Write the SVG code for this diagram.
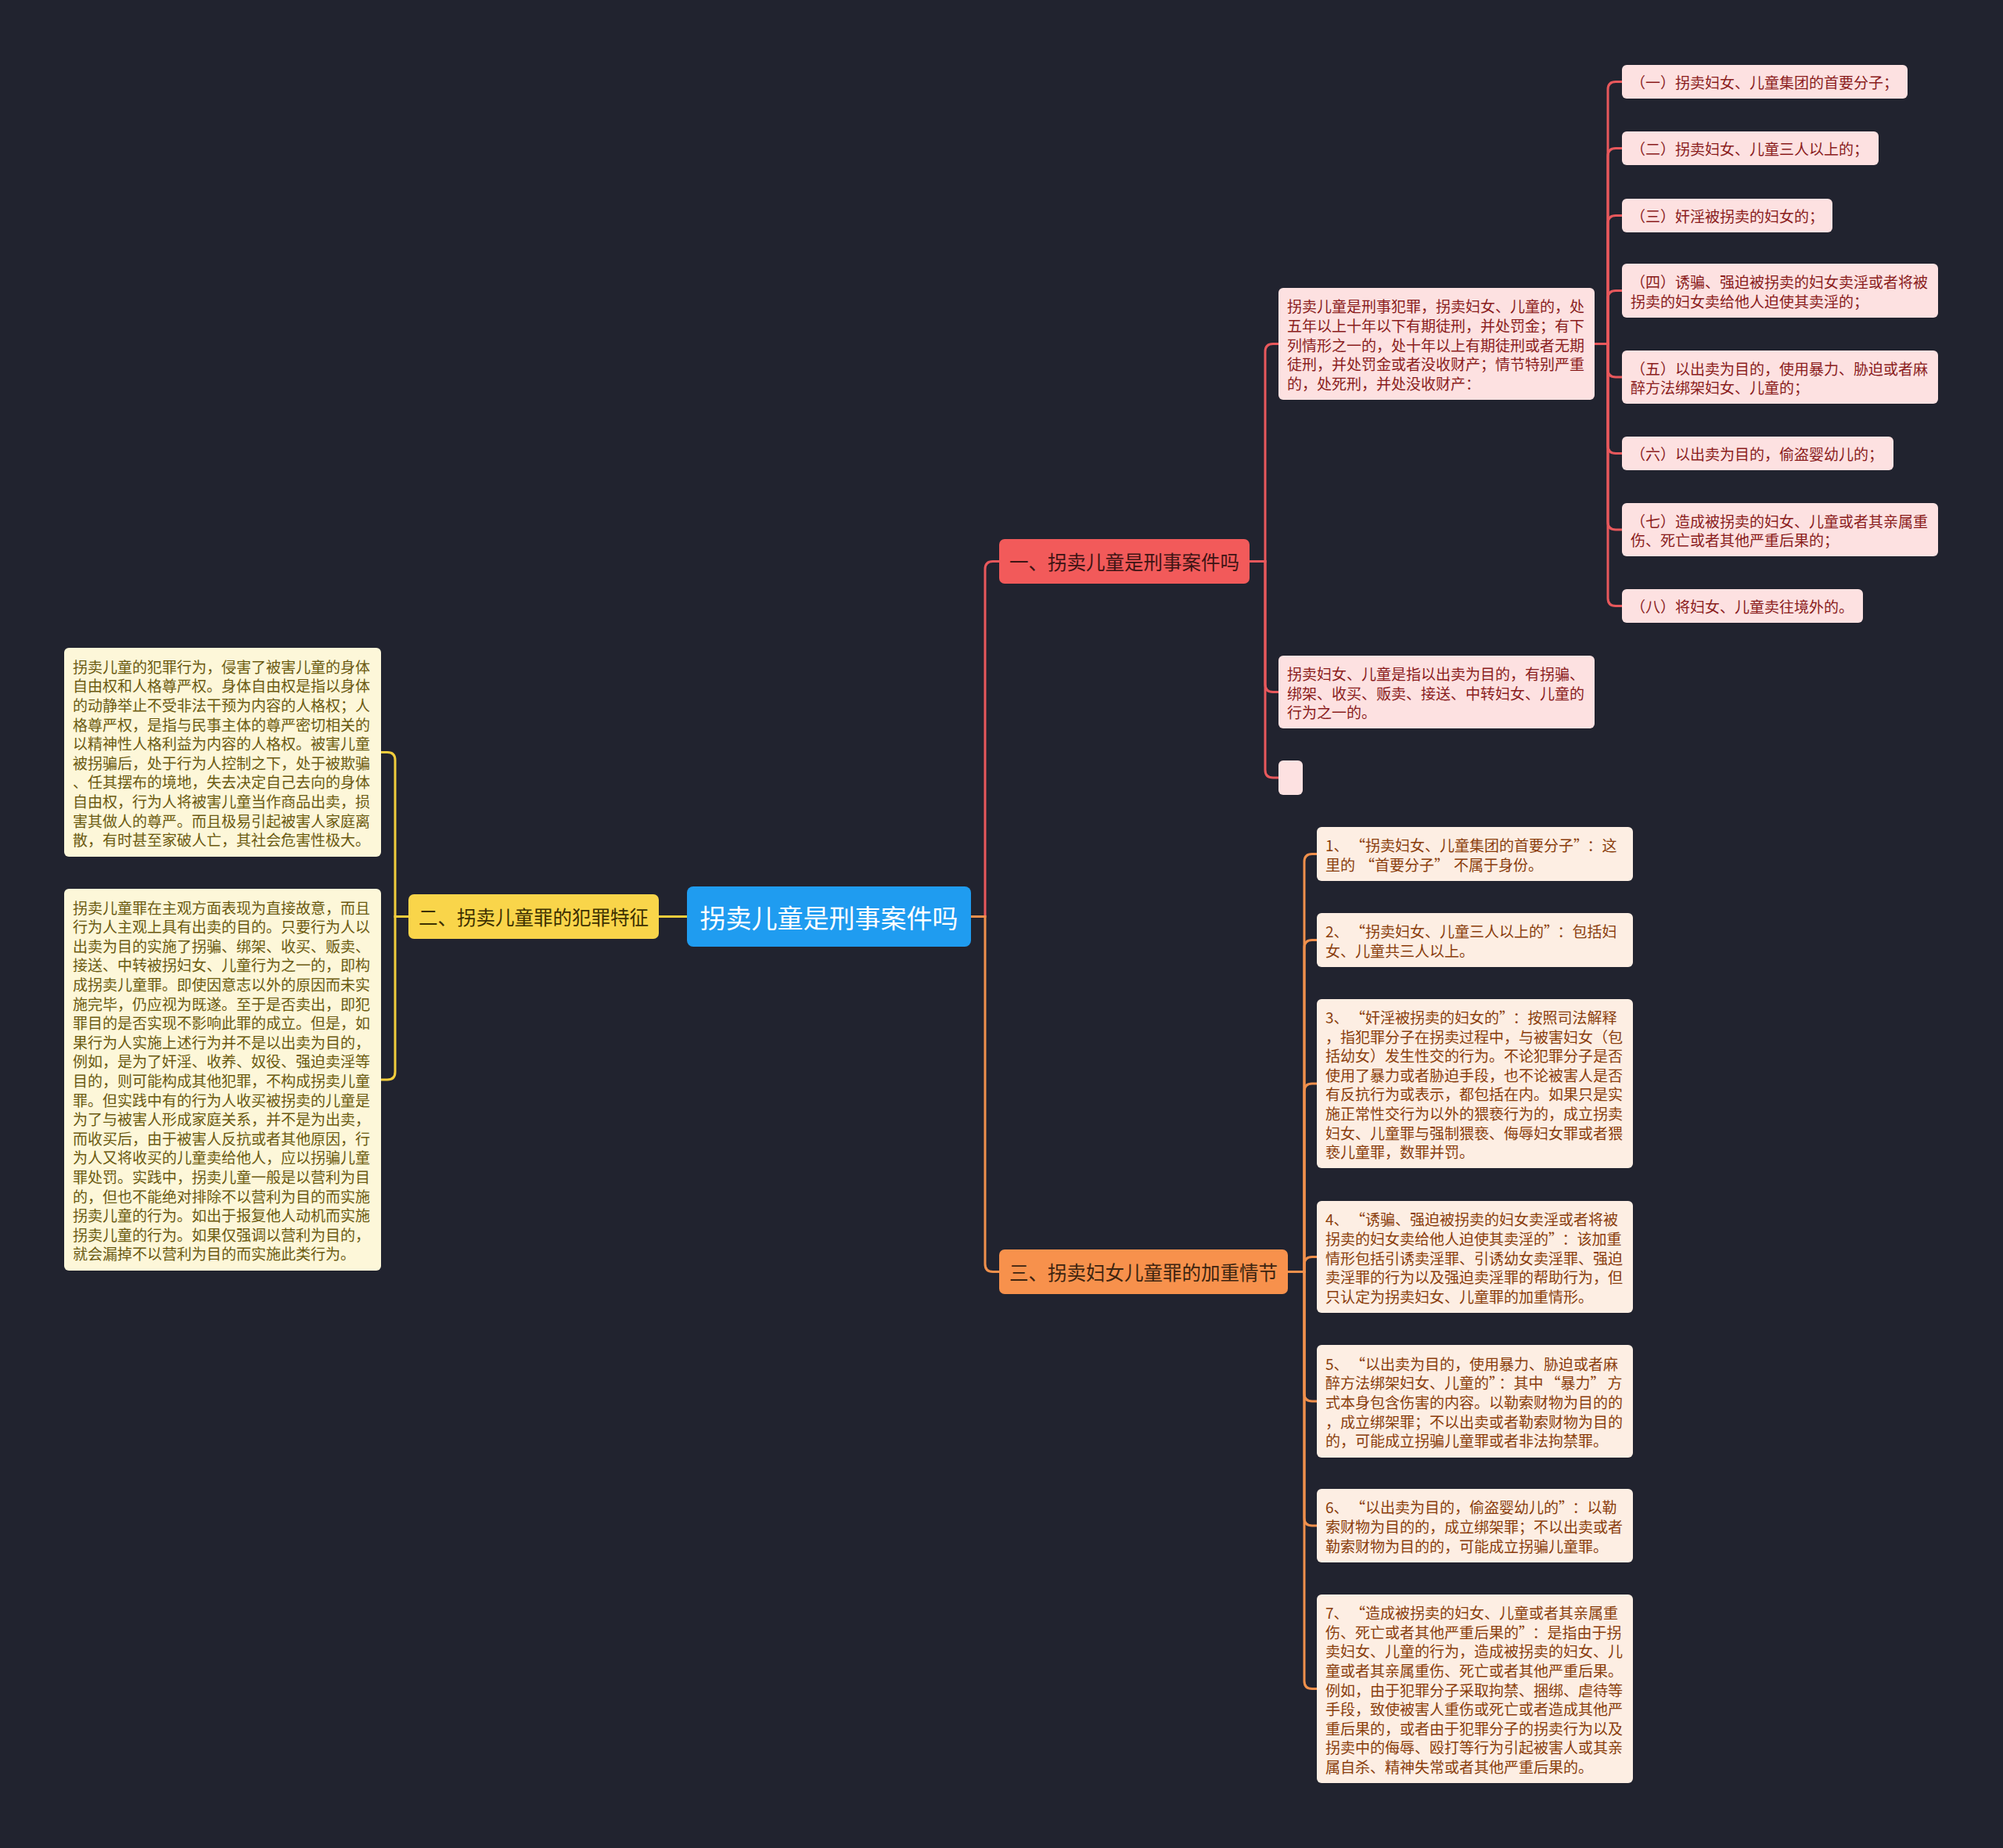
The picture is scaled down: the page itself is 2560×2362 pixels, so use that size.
<svg xmlns="http://www.w3.org/2000/svg" width="2560" height="2362" viewBox="0 0 2560 2362">
<style>
text{font-family:"Noto Sans CJK SC","Noto Sans",sans-serif;dominant-baseline:central}
.c{fill:none;stroke-width:3;stroke-linecap:round}
.cr{stroke:#e8585c}.co{stroke:#f0904c}.cy{stroke:#f2cd3c}
.lr{fill:#fde1e1}.lo{fill:#fdeee3}.ly{fill:#fdf7d9}
.tr{fill:#8a1c1c;font-size:19px}.to{fill:#8a3d0c;font-size:19px}.ty{fill:#6b5a10;font-size:19px}
.mt{font-size:24.5px;text-anchor:middle}
</style>
<rect width="2560" height="2362" fill="#21232f"/>
<g id="connectors">
<path class="c cy" d="M878,1171.5 H842"/>
<path class="c cr" d="M1241,1171.5 H1259 V727.5 Q1259,717.5 1269,717.5 H1277"/>
<path class="c co" d="M1241,1171.5 H1259 V1615.5 Q1259,1625.5 1269,1625.5 H1277"/>
<path class="c cr" d="M1597,717.5 H1617 V449.5 Q1617,439.5 1627,439.5 H1634"/>
<path class="c cr" d="M1597,717.5 H1617 V874.5 Q1617,884.5 1627,884.5 H1634"/>
<path class="c cr" d="M1597,717.5 H1617 V984 Q1617,994 1627,994 H1634"/>
<path class="c cr" d="M2038,439.5 H2055 V114.5 Q2055,104.5 2065,104.5 H2073"/>
<path class="c cr" d="M2038,439.5 H2055 V199.5 Q2055,189.5 2065,189.5 H2073"/>
<path class="c cr" d="M2038,439.5 H2055 V285.5 Q2055,275.5 2065,275.5 H2073"/>
<path class="c cr" d="M2038,439.5 H2055 V381.5 Q2055,371.5 2065,371.5 H2073"/>
<path class="c cr" d="M2038,439.5 H2055 V472 Q2055,482 2065,482 H2073"/>
<path class="c cr" d="M2038,439.5 H2055 V569.5 Q2055,579.5 2065,579.5 H2073"/>
<path class="c cr" d="M2038,439.5 H2055 V667 Q2055,677 2065,677 H2073"/>
<path class="c cr" d="M2038,439.5 H2055 V764.5 Q2055,774.5 2065,774.5 H2073"/>
<path class="c co" d="M1646,1625.5 H1667 V1101.5 Q1667,1091.5 1677,1091.5 H1683"/>
<path class="c co" d="M1646,1625.5 H1667 V1211.5 Q1667,1201.5 1677,1201.5 H1683"/>
<path class="c co" d="M1646,1625.5 H1667 V1395 Q1667,1385 1677,1385 H1683"/>
<path class="c co" d="M1646,1625.5 H1667 V1616.5 Q1667,1606.5 1677,1606.5 H1683"/>
<path class="c co" d="M1646,1625.5 H1667 V1781 Q1667,1791 1677,1791 H1683"/>
<path class="c co" d="M1646,1625.5 H1667 V1940 Q1667,1950 1677,1950 H1683"/>
<path class="c co" d="M1646,1625.5 H1667 V2148.5 Q1667,2158.5 1677,2158.5 H1683"/>
<path class="c cy" d="M522,1171.5 H505 V971.5 Q505,961.5 495,961.5 H487"/>
<path class="c cy" d="M522,1171.5 H505 V1370 Q505,1380 495,1380 H487"/>
</g>
<g id="root">
<rect x="878" y="1133" width="363" height="77" rx="8" fill="#1f9cf0"/>
<text x="1059.5" y="1171.5" font-size="33" fill="#ffffff" text-anchor="middle">拐卖儿童是刑事案件吗</text>
</g>
<g id="b1">
<rect x="1277" y="689" width="320" height="57" rx="7" fill="#f25a5a"/>
<text class="mt" x="1437" y="717.5" fill="#3d1414">一、拐卖儿童是刑事案件吗</text>
</g>
<g id="b2">
<rect x="522" y="1143" width="320" height="57" rx="7" fill="#f9d54a"/>
<text class="mt" x="682" y="1171.5" fill="#3d3000">二、拐卖儿童罪的犯罪特征</text>
</g>
<g id="b3">
<rect x="1277" y="1597" width="369" height="57" rx="7" fill="#f7914c"/>
<text class="mt" x="1461.5" y="1625.5" fill="#3d2410">三、拐卖妇女儿童罪的加重情节</text>
</g>
<g id="a">
<rect class="lr" x="1634" y="368" width="404" height="143" rx="6"/>
<text class="tr"><tspan x="1645" y="390.3">拐卖儿童是刑事犯罪，拐卖妇女、儿童的，处</tspan><tspan x="1645" dy="24.6">五年以上十年以下有期徒刑，并处罚金；有下</tspan><tspan x="1645" dy="24.6">列情形之一的，处十年以上有期徒刑或者无期</tspan><tspan x="1645" dy="24.6">徒刑，并处罚金或者没收财产；情节特别严重</tspan><tspan x="1645" dy="24.6">的，处死刑，并处没收财产：</tspan></text>
</g>
<g id="b">
<rect class="lr" x="1634" y="838" width="404" height="93" rx="6"/>
<text class="tr"><tspan x="1645" y="859.9">拐卖妇女、儿童是指以出卖为目的，有拐骗、</tspan><tspan x="1645" dy="24.6">绑架、收买、贩卖、接送、中转妇女、儿童的</tspan><tspan x="1645" dy="24.6">行为之一的。</tspan></text>
</g>
<g id="e">
<rect class="lr" x="1634" y="972" width="31" height="44" rx="6"/>
</g>
<g id="i1"><rect class="lr" x="2073" y="83" width="365" height="43" rx="6"/><text class="tr" x="2084" y="104.5">（一）拐卖妇女、儿童集团的首要分子；</text></g>
<g id="i2"><rect class="lr" x="2073" y="168" width="328" height="43" rx="6"/><text class="tr" x="2084" y="189.5">（二）拐卖妇女、儿童三人以上的；</text></g>
<g id="i3"><rect class="lr" x="2073" y="254" width="269" height="43" rx="6"/><text class="tr" x="2084" y="275.5">（三）奸淫被拐卖的妇女的；</text></g>
<g id="i4"><rect class="lr" x="2073" y="337" width="404" height="69" rx="6"/><text class="tr"><tspan x="2084" y="359.2">（四）诱骗、强迫被拐卖的妇女卖淫或者将被</tspan><tspan x="2084" dy="24.6">拐卖的妇女卖给他人迫使其卖淫的；</tspan></text></g>
<g id="i5"><rect class="lr" x="2073" y="448" width="404" height="68" rx="6"/><text class="tr"><tspan x="2084" y="469.7">（五）以出卖为目的，使用暴力、胁迫或者麻</tspan><tspan x="2084" dy="24.6">醉方法绑架妇女、儿童的；</tspan></text></g>
<g id="i6"><rect class="lr" x="2073" y="558" width="347" height="43" rx="6"/><text class="tr" x="2084" y="579.5">（六）以出卖为目的，偷盗婴幼儿的；</text></g>
<g id="i7"><rect class="lr" x="2073" y="643" width="404" height="68" rx="6"/><text class="tr"><tspan x="2084" y="664.7">（七）造成被拐卖的妇女、儿童或者其亲属重</tspan><tspan x="2084" dy="24.6">伤、死亡或者其他严重后果的；</tspan></text></g>
<g id="i8"><rect class="lr" x="2073" y="753" width="308" height="43" rx="6"/><text class="tr" x="2084" y="774.5">（八）将妇女、儿童卖往境外的。</text></g>
<g id="l1">
<rect class="ly" x="82" y="828" width="405" height="267" rx="6"/>
<text class="ty"><tspan x="93" y="850.8">拐卖儿童的犯罪行为，侵害了被害儿童的身体</tspan><tspan x="93" dy="24.6">自由权和人格尊严权。身体自由权是指以身体</tspan><tspan x="93" dy="24.6">的动静举止不受非法干预为内容的人格权；人</tspan><tspan x="93" dy="24.6">格尊严权，是指与民事主体的尊严密切相关的</tspan><tspan x="93" dy="24.6">以精神性人格利益为内容的人格权。被害儿童</tspan><tspan x="93" dy="24.6">被拐骗后，处于行为人控制之下，处于被欺骗</tspan><tspan x="93" dy="24.6">、任其摆布的境地，失去决定自己去向的身体</tspan><tspan x="93" dy="24.6">自由权，行为人将被害儿童当作商品出卖，损</tspan><tspan x="93" dy="24.6">害其做人的尊严。而且极易引起被害人家庭离</tspan><tspan x="93" dy="24.6">散，有时甚至家破人亡，其社会危害性极大。</tspan></text>
</g>
<g id="l2">
<rect class="ly" x="82" y="1136" width="405" height="488" rx="6"/>
<text class="ty"><tspan x="93" y="1158.6">拐卖儿童罪在主观方面表现为直接故意，而且</tspan><tspan x="93" dy="24.6">行为人主观上具有出卖的目的。只要行为人以</tspan><tspan x="93" dy="24.6">出卖为目的实施了拐骗、绑架、收买、贩卖、</tspan><tspan x="93" dy="24.6">接送、中转被拐妇女、儿童行为之一的，即构</tspan><tspan x="93" dy="24.6">成拐卖儿童罪。即使因意志以外的原因而未实</tspan><tspan x="93" dy="24.6">施完毕，仍应视为既遂。至于是否卖出，即犯</tspan><tspan x="93" dy="24.6">罪目的是否实现不影响此罪的成立。但是，如</tspan><tspan x="93" dy="24.6">果行为人实施上述行为并不是以出卖为目的，</tspan><tspan x="93" dy="24.6">例如，是为了奸淫、收养、奴役、强迫卖淫等</tspan><tspan x="93" dy="24.6">目的，则可能构成其他犯罪，不构成拐卖儿童</tspan><tspan x="93" dy="24.6">罪。但实践中有的行为人收买被拐卖的儿童是</tspan><tspan x="93" dy="24.6">为了与被害人形成家庭关系，并不是为出卖，</tspan><tspan x="93" dy="24.6">而收买后，由于被害人反抗或者其他原因，行</tspan><tspan x="93" dy="24.6">为人又将收买的儿童卖给他人，应以拐骗儿童</tspan><tspan x="93" dy="24.6">罪处罚。实践中，拐卖儿童一般是以营利为目</tspan><tspan x="93" dy="24.6">的，但也不能绝对排除不以营利为目的而实施</tspan><tspan x="93" dy="24.6">拐卖儿童的行为。如出于报复他人动机而实施</tspan><tspan x="93" dy="24.6">拐卖儿童的行为。如果仅强调以营利为目的，</tspan><tspan x="93" dy="24.6">就会漏掉不以营利为目的而实施此类行为。</tspan></text>
</g>
<g id="o1"><rect class="lo" x="1683" y="1057" width="404" height="69" rx="6"/><text class="to"><tspan x="1694" y="1079.2">1、<tspan dx="12">“</tspan>拐卖妇女、儿童集团的首要分子”<tspan dx="8">：</tspan>这</tspan><tspan x="1694" dy="24.6">里的<tspan dx="6">“</tspan>首要分子”<tspan dx="6">不</tspan>属于身份。</tspan></text></g>
<g id="o2"><rect class="lo" x="1683" y="1167" width="404" height="69" rx="6"/><text class="to"><tspan x="1694" y="1189.2">2、<tspan dx="12">“</tspan>拐卖妇女、儿童三人以上的”<tspan dx="8">：</tspan>包括妇</tspan><tspan x="1694" dy="24.6">女、儿童共三人以上。</tspan></text></g>
<g id="o3"><rect class="lo" x="1683" y="1277" width="404" height="216" rx="6"/><text class="to"><tspan x="1694" y="1298.9">3、<tspan dx="12">“</tspan>奸淫被拐卖的妇女的”<tspan dx="8">：</tspan>按照司法解释</tspan><tspan x="1694" dy="24.6">，指犯罪分子在拐卖过程中，与被害妇女（包</tspan><tspan x="1694" dy="24.6">括幼女）发生性交的行为。不论犯罪分子是否</tspan><tspan x="1694" dy="24.6">使用了暴力或者胁迫手段，也不论被害人是否</tspan><tspan x="1694" dy="24.6">有反抗行为或表示，都包括在内。如果只是实</tspan><tspan x="1694" dy="24.6">施正常性交行为以外的猥亵行为的，成立拐卖</tspan><tspan x="1694" dy="24.6">妇女、儿童罪与强制猥亵、侮辱妇女罪或者猥</tspan><tspan x="1694" dy="24.6">亵儿童罪，数罪并罚。</tspan></text></g>
<g id="o4"><rect class="lo" x="1683" y="1535" width="404" height="143" rx="6"/><text class="to"><tspan x="1694" y="1557.3">4、<tspan dx="12">“</tspan>诱骗、强迫被拐卖的妇女卖淫或者将被</tspan><tspan x="1694" dy="24.6">拐卖的妇女卖给他人迫使其卖淫的”<tspan dx="8">：</tspan>该加重</tspan><tspan x="1694" dy="24.6">情形包括引诱卖淫罪、引诱幼女卖淫罪、强迫</tspan><tspan x="1694" dy="24.6">卖淫罪的行为以及强迫卖淫罪的帮助行为，但</tspan><tspan x="1694" dy="24.6">只认定为拐卖妇女、儿童罪的加重情形。</tspan></text></g>
<g id="o5"><rect class="lo" x="1683" y="1719" width="404" height="144" rx="6"/><text class="to"><tspan x="1694" y="1741.8">5、<tspan dx="12">“</tspan>以出卖为目的，使用暴力、胁迫或者麻</tspan><tspan x="1694" dy="24.6">醉方法绑架妇女、儿童的”<tspan dx="3">：</tspan>其中<tspan dx="3">“</tspan>暴力”<tspan dx="3">方</tspan></tspan><tspan x="1694" dy="24.6">式本身包含伤害的内容。以勒索财物为目的的</tspan><tspan x="1694" dy="24.6">，成立绑架罪；不以出卖或者勒索财物为目的</tspan><tspan x="1694" dy="24.6">的，可能成立拐骗儿童罪或者非法拘禁罪。</tspan></text></g>
<g id="o6"><rect class="lo" x="1683" y="1903" width="404" height="94" rx="6"/><text class="to"><tspan x="1694" y="1925.4">6、<tspan dx="12">“</tspan>以出卖为目的，偷盗婴幼儿的”<tspan dx="8">：</tspan>以勒</tspan><tspan x="1694" dy="24.6">索财物为目的的，成立绑架罪；不以出卖或者</tspan><tspan x="1694" dy="24.6">勒索财物为目的的，可能成立拐骗儿童罪。</tspan></text></g>
<g id="o7"><rect class="lo" x="1683" y="2038" width="404" height="241" rx="6"/><text class="to"><tspan x="1694" y="2060.1">7、<tspan dx="12">“</tspan>造成被拐卖的妇女、儿童或者其亲属重</tspan><tspan x="1694" dy="24.6">伤、死亡或者其他严重后果的”<tspan dx="8">：</tspan>是指由于拐</tspan><tspan x="1694" dy="24.6">卖妇女、儿童的行为，造成被拐卖的妇女、儿</tspan><tspan x="1694" dy="24.6">童或者其亲属重伤、死亡或者其他严重后果。</tspan><tspan x="1694" dy="24.6">例如，由于犯罪分子采取拘禁、捆绑、虐待等</tspan><tspan x="1694" dy="24.6">手段，致使被害人重伤或死亡或者造成其他严</tspan><tspan x="1694" dy="24.6">重后果的，或者由于犯罪分子的拐卖行为以及</tspan><tspan x="1694" dy="24.6">拐卖中的侮辱、殴打等行为引起被害人或其亲</tspan><tspan x="1694" dy="24.6">属自杀、精神失常或者其他严重后果的。</tspan></text></g>
</svg>
